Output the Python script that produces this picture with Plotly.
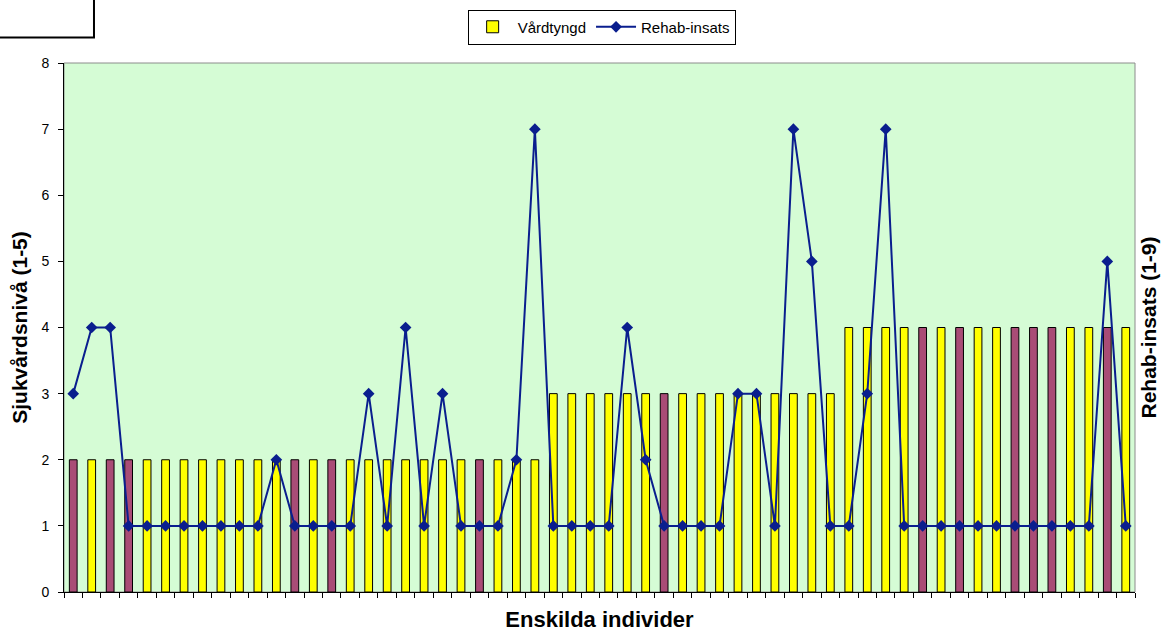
import plotly.graph_objects as go

# Individual records, one per person, left to right
individer = list(range(58))

# Care level (Vårdtyngd) per individual
vardtyngd = [2, 2, 2, 2, 2, 2, 2, 2, 2, 2,
             2, 2, 2, 2, 2, 2, 2, 2, 2, 2,
             2, 2, 2, 2, 2, 2, 3, 3, 3, 3,
             3, 3, 3, 3, 3, 3, 3, 3, 3, 3,
             3, 3, 4, 4, 4, 4, 4, 4, 4, 4,
             4, 4, 4, 4, 4, 4, 4, 4]

# Individuals whose bar is highlighted in the darker colour
markerade = [0, 2, 3, 12, 14, 22, 32, 46, 48, 51, 52, 53, 56]

# Rehabilitation effort (Rehab-insats) per individual
rehab_insats = [3, 4, 4, 1, 1, 1, 1, 1, 1, 1,
                1, 2, 1, 1, 1, 1, 3, 1, 4, 1,
                3, 1, 1, 1, 2, 7, 1, 1, 1, 1,
                4, 2, 1, 1, 1, 1, 3, 3, 1, 7,
                5, 1, 1, 3, 7, 1, 1, 1, 1, 1,
                1, 1, 1, 1, 1, 1, 5, 1]

y_ticks = [0, 1, 2, 3, 4, 5, 6, 7, 8]

GUL = "#FFFF00"
VINROD = "#A94C76"
LINJE = "#0A1E8E"
BAKGRUND = "#D5FCD5"
FONT = "Liberation Sans, Arial, sans-serif"

x_gul = [i for i in individer if i not in markerade]
y_gul = [vardtyngd[i] for i in x_gul]
x_rod = [i for i in individer if i in markerade]
y_rod = [vardtyngd[i] for i in x_rod]

fig = go.Figure()

fig.add_trace(go.Bar(
    x=x_gul, y=y_gul, name="Vårdtyngd", width=0.42,
    marker=dict(color=GUL, line=dict(color="#000000", width=1)),
    legendgroup="v",
))
fig.add_trace(go.Bar(
    x=x_rod, y=y_rod, name="Vårdtyngd", width=0.42, showlegend=False,
    marker=dict(color=VINROD, line=dict(color="#000000", width=1)),
    legendgroup="v",
))
fig.add_trace(go.Scatter(
    x=individer, y=rehab_insats, name="Rehab-insats", yaxis="y2",
    mode="lines+markers",
    line=dict(color=LINJE, width=2),
    marker=dict(symbol="diamond", size=9, color=LINJE),
))

# Thin grey frame around the plotting area
fig.add_shape(type="rect", xref="paper", yref="paper", x0=0, y0=0, x1=1, y1=1,
              line=dict(color="#8C8C8C", width=1), layer="below")

# Small framed box in the top-left corner
fig.add_shape(type="rect", xref="paper", yref="paper",
              x0=-0.07, y0=1.048, x1=0.028, y1=1.2,
              line=dict(color="#000000", width=2), fillcolor="rgba(0,0,0,0)")

fig.update_layout(
    width=1166, height=632,
    margin=dict(l=64, r=31, t=63, b=40, autoexpand=False),
    paper_bgcolor="#FFFFFF",
    plot_bgcolor=BAKGRUND,
    barmode="overlay",
    font=dict(family=FONT, size=14, color="#000000"),
    legend=dict(
        orientation="h", x=0.502, xanchor="center", y=1.068, yanchor="middle",
        bordercolor="#000000", borderwidth=1, bgcolor="#FFFFFF",
        font=dict(size=15), itemwidth=40, tracegroupgap=0,
    ),
    xaxis=dict(
        range=[-0.5, 57.5],
        tickmode="array",
        tickvals=[i - 0.5 for i in individer] + [57.5],
        showticklabels=False,
        ticks="outside", ticklen=5, tickcolor="#000000",
        showline=True, linecolor="#000000", linewidth=1,
        showgrid=False, zeroline=False, automargin=False,
        title=dict(text="<b>Enskilda individer</b>", font=dict(size=22), standoff=14),
    ),
    yaxis=dict(
        range=[0, 8], tickvals=y_ticks,
        ticks="outside", ticklen=5, tickcolor="#000000",
        showline=True, linecolor="#000000", linewidth=1,
        showgrid=False, zeroline=False, automargin=False,
        tickfont=dict(size=14), ticklabelstandoff=6,
        title=dict(text="<b>Sjukvårdsnivå (1-5)</b>", font=dict(size=21), standoff=8),
    ),
    yaxis2=dict(
        range=[0, 8], overlaying="y", side="right",
        showticklabels=False, ticks="",
        showline=False, showgrid=False, zeroline=False, automargin=False,
        title=dict(text="<b>Rehab-insats (1-9)</b>", font=dict(size=21), standoff=6),
    ),
)

fig.write_html("out.html")
